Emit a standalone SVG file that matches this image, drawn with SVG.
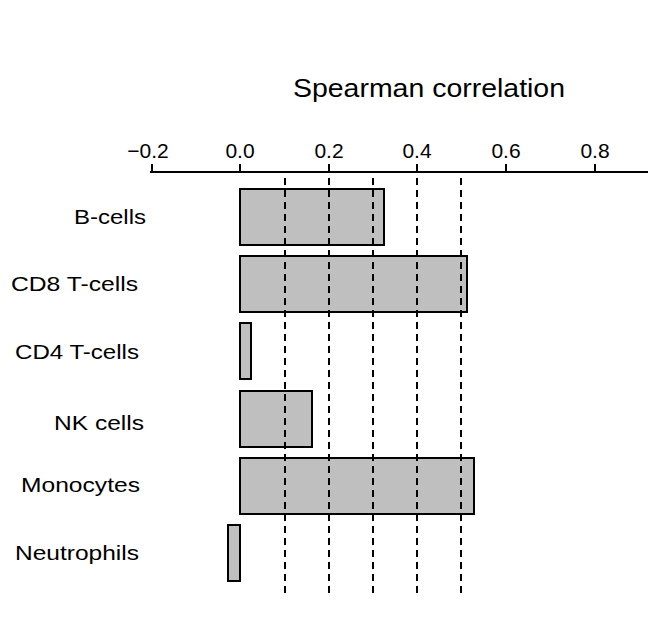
<svg xmlns="http://www.w3.org/2000/svg" width="670" height="640" viewBox="0 0 670 640">
<style>
text{font-family:"Liberation Sans",Arial,sans-serif;fill:#000}
.t{font-size:21px}
.bar{fill:#c0bfbf;stroke:#000;stroke-width:2}
.d{stroke:#000;stroke-width:2;stroke-dasharray:7,5}
.ax{stroke:#000;stroke-width:2;fill:none}
</style>
<rect width="670" height="640" fill="#fff"/>
<text x="293" y="97" font-size="25" textLength="272" lengthAdjust="spacingAndGlyphs">Spearman correlation</text>
<g id="axis">
<path class="ax" d="M150,172H648M152,164V172M240,164V172M329,164V172M417,164V172M506,164V172M595,164V172"/>
<g class="t" text-anchor="middle">
<text x="148" y="158">−0.2</text><text x="240" y="158">0.0</text><text x="329" y="158">0.2</text><text x="417" y="158">0.4</text><text x="506" y="158">0.6</text><text x="595" y="158">0.8</text>
</g>
</g>
<g id="bars">
<rect class="bar" x="240" y="189" width="144" height="56"/>
<rect class="bar" x="240" y="256" width="227" height="56"/>
<rect class="bar" x="240" y="323" width="11" height="56"/>
<rect class="bar" x="240" y="391" width="72" height="56"/>
<rect class="bar" x="240" y="458" width="234" height="56"/>
<rect class="bar" x="228" y="525" width="12" height="56"/>
</g>
<g id="connectors">
<path class="d" d="M285,178V598M329,178V598M373,178V598M417,178V598M461,178V598"/>
</g>
<g id="labels" class="t" lengthAdjust="spacingAndGlyphs">
<text x="74" y="224" textLength="72" lengthAdjust="spacingAndGlyphs">B-cells</text>
<text x="11" y="291" textLength="127" lengthAdjust="spacingAndGlyphs">CD8 T-cells</text>
<text x="15" y="359" textLength="124" lengthAdjust="spacingAndGlyphs">CD4 T-cells</text>
<text x="54" y="430" textLength="90" lengthAdjust="spacingAndGlyphs">NK cells</text>
<text x="21" y="492" textLength="119" lengthAdjust="spacingAndGlyphs">Monocytes</text>
<text x="15" y="560" textLength="124" lengthAdjust="spacingAndGlyphs">Neutrophils</text>
</g>
</svg>
